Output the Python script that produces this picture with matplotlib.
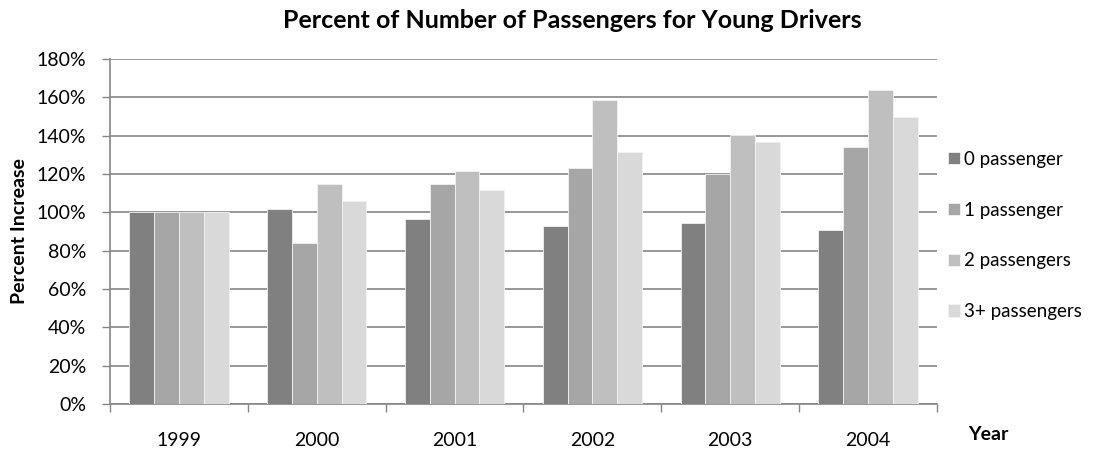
import matplotlib.pyplot as plt
import numpy as np
from matplotlib.ticker import PercentFormatter

years = ['1999', '2000', '2001', '2002', '2003', '2004']
series = ['0 passenger', '1 passenger', '2 passengers', '3+ passengers']
pass0 = [100, 102, 96.5, 93, 94.3, 90.7]
pass1 = [100, 84, 114.8, 122.9, 120, 134]
pass2 = [100, 114.7, 121.8, 158.8, 140.6, 163.8]
pass3 = [100, 106, 111.6, 131.4, 136.8, 149.6]
colors = ['#808080', '#A6A6A6', '#BFBFBF', '#D9D9D9']

plt.rcParams['font.family'] = ['Lato', 'DejaVu Sans']

fig = plt.figure(figsize=(10.93, 4.55), dpi=100)
ax = fig.add_axes([110/1093, 1 - 404/455, 827/1093, 345/455])

x = np.arange(len(years))
w = 0.18
for i, (vals, lab) in enumerate(zip([pass0, pass1, pass2, pass3], series)):
    ax.bar(x + (i - 1.5) * w, vals, w, color=colors[i], label=lab,
           edgecolor='#f2f2f2', linewidth=0.6, zorder=3)

ax.set_xlim(-0.5, len(years) - 0.5)
ax.set_ylim(0, 180)
ax.set_yticks(np.arange(0, 181, 20))
ax.yaxis.set_major_formatter(PercentFormatter(decimals=0))
ax.set_xticks(x)
ax.set_xticklabels(years)
ax.set_xticks(np.arange(-0.5, len(years), 1), minor=True)
ax.tick_params(axis='x', which='major', length=0, pad=20, labelsize=14)
ax.tick_params(axis='x', which='minor', length=6, color='#868686', width=1)
ax.tick_params(axis='y', length=6, color='#868686', width=1, labelsize=14,
               pad=11)
ax.grid(axis='y', color='#868686', linewidth=1.2, zorder=0)
for s in ['top', 'right']:
    ax.spines[s].set_visible(False)
for s in ['left', 'bottom']:
    ax.spines[s].set_color('#868686')
    ax.spines[s].set_linewidth(1.2)

fig.text(572/1093, 1 - 21/455, 'Percent of Number of Passengers for Young Drivers',
         ha='center', va='center', fontsize=18, fontweight='bold')
fig.text(20/1093, 1 - 231/455, 'Percent Increase', rotation=90,
         ha='center', va='center', fontsize=14, fontweight='bold')
fig.text(988/1093, 1 - 434/455, 'Year', ha='center', va='center',
         fontsize=14, fontweight='bold')

fig.legend(loc='upper left', bbox_to_anchor=(931/1093, 1 - 134/455),
           frameon=False, fontsize=13.5, labelspacing=1.8,
           handlelength=0.62, handleheight=0.62, handletextpad=0.26)

fig.savefig('out.png', dpi=100)
